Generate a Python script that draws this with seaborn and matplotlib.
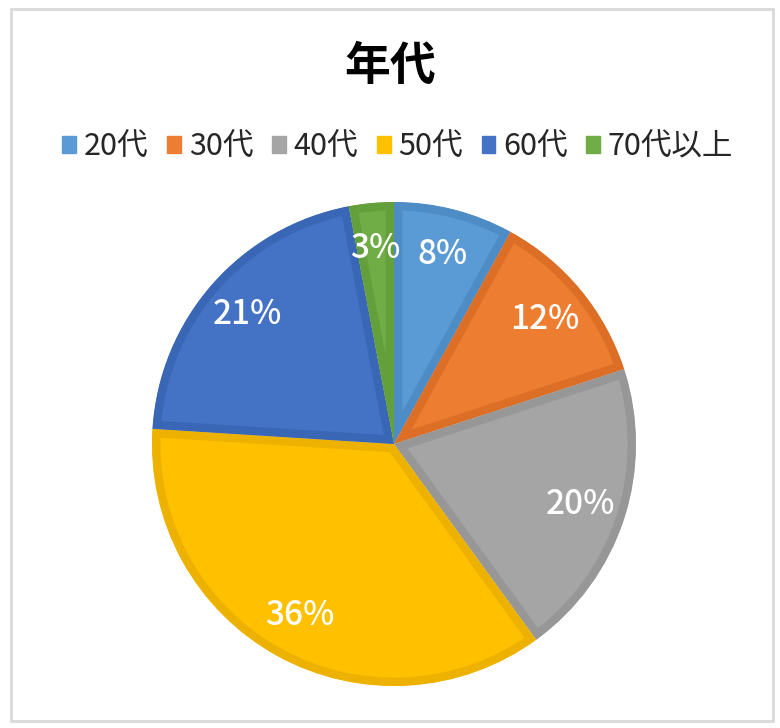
import matplotlib
matplotlib.use("Agg")
import matplotlib.pyplot as plt
import matplotlib.patches as mpatches
import seaborn as sns

# data
categories = ['20代', '30代', '40代', '50代', '60代', '70代以上']
shares = [8, 12, 20, 36, 21, 3]
colors = ['#5B9BD5', '#ED7D31', '#A5A5A5', '#FFC000', '#4472C4', '#70AD47']
edge_colors = ['#4E8CC6', '#DC6F25', '#979797', '#EDB200', '#3A66B6', '#63A03B']
title = '年代'

sns.set_theme(style='white')
plt.rcParams['font.family'] = ['Noto Sans CJK JP', 'DejaVu Sans']

fig = plt.figure(figsize=(7.8, 7.28), dpi=100)
fig.patch.set_facecolor('white')

# light gray frame around the chart area
fig.add_artist(mpatches.Rectangle((11 / 780, 1 - 721 / 728), 762 / 780, 712 / 728,
                                  transform=fig.transFigure, fill=False,
                                  edgecolor='#D9D9D9', linewidth=2))

ax = fig.add_axes([152 / 780, (728 - 686) / 728, 484 / 780, 484 / 728])
wedges, texts, autotexts = ax.pie(
    shares, colors=colors, startangle=90, counterclock=False,
    autopct='%1.0f%%', pctdistance=0.81, radius=1.0,
    wedgeprops=dict(linewidth=12),
    textprops=dict(color='white', fontsize=24, fontweight='medium'))

# inset border like the office chart style: clip the stroke to its own wedge
for w, ec in zip(wedges, edge_colors):
    w.set_edgecolor(ec)
    w.set_clip_on(True)
    w.set_clip_path(w.get_path(), w.get_transform())

ax.set_xlim(-1.0, 1.0)
ax.set_ylim(-1.0, 1.0)
ax.set_aspect('equal')
ax.axis('off')

fig.text(0.5, 1 - 67 / 728, title, ha='center', va='center',
         fontsize=33, fontweight='bold', color='black')

handles = [mpatches.Patch(color=c, label=l) for c, l in zip(colors, categories)]
fig.legend(handles=handles, loc='center', bbox_to_anchor=(0.51, 1 - 147 / 728),
           ncol=6, frameon=False, fontsize=22, handlelength=0.45, handleheight=0.45,
           handletextpad=0.25, columnspacing=0.62, borderaxespad=0)

fig.savefig('out.png', dpi=100, facecolor='white')
